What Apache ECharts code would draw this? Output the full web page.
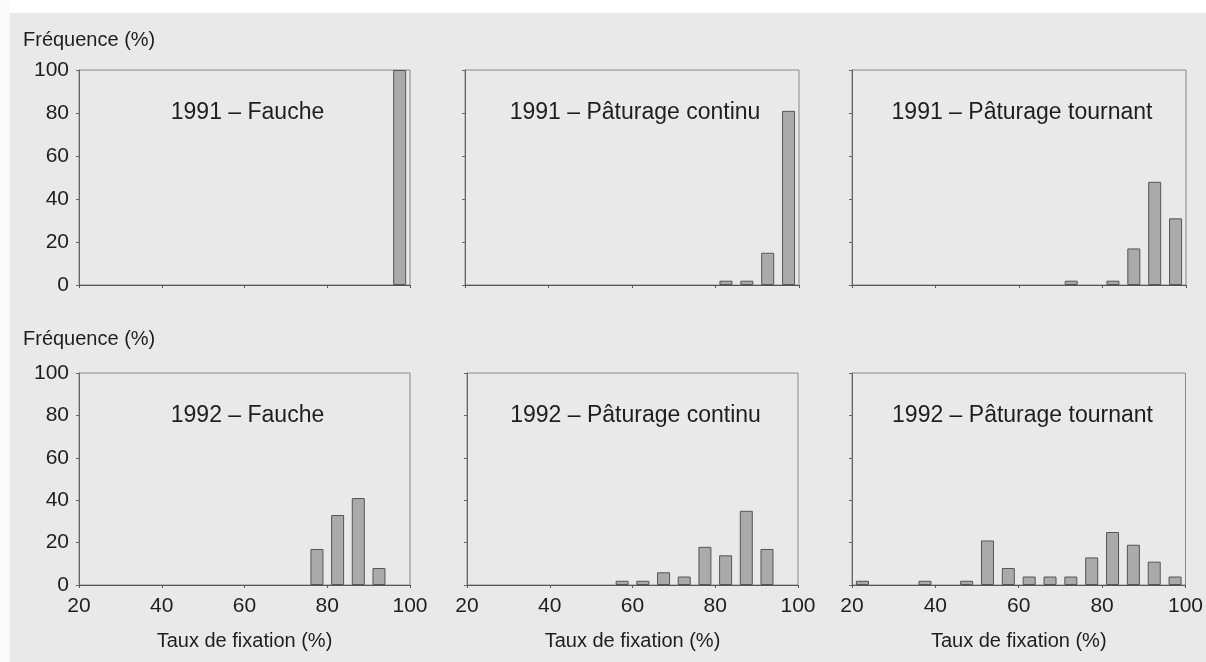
<!DOCTYPE html>
<html><head><meta charset="utf-8">
<script src="https://cdn.jsdelivr.net/npm/echarts@6/dist/echarts.min.js"></script>
<style>html,body{margin:0;padding:0;background:#fff}#c{width:1206px;height:662px}</style>
</head><body><div id="c"></div>
<script>
// Bin centres of fixation rate (%), 5-point classes
var binCenters = [22.5,27.5,32.5,37.5,42.5,47.5,52.5,57.5,62.5,67.5,72.5,77.5,82.5,87.5,92.5,97.5];
// Frequencies (%) per bin
var f1991Fauche   = [0,0,0,0,0,0,0,0,0,0,0,0,0,0,0,100];
var f1991Continu  = [0,0,0,0,0,0,0,0,0,0,0,0,2,2,15,81];
var f1991Tournant = [0,0,0,0,0,0,0,0,0,0,2,0,2,17,48,31];
var f1992Fauche   = [0,0,0,0,0,0,0,0,0,0,0,17,33,41,8,0];
var f1992Continu  = [0,0,0,0,0,0,0,2,2,6,4,18,14,35,17,0];
var f1992Tournant = [2,0,0,2,0,2,21,8,4,4,4,13,25,19,11,4];
var panelTitles = ["1991 – Fauche","1991 – Pâturage continu","1991 – Pâturage tournant",
                   "1992 – Fauche","1992 – Pâturage continu","1992 – Pâturage tournant"];
var xTicks = [20,40,60,80,100];
var yTicks = [0,20,40,60,80,100];
var yLabel = "Fréquence (%)";
var xLabel = "Taux de fixation (%)";

var panels = [f1991Fauche,f1991Continu,f1991Tournant,f1992Fauche,f1992Continu,f1992Tournant];
var layout = [
  {left:79, top:70, width:331, height:215},
  {left:465,top:70, width:334, height:215},
  {left:852,top:70, width:334, height:215},
  {left:79, top:373,width:331, height:212},
  {left:467,top:373,width:331, height:212},
  {left:852,top:373,width:335, height:212}
];
var FONT = 'Liberation Sans, Arial, sans-serif';
var TXT = '#1e1e1e';
var grids=[],xAxes=[],yAxes=[],series=[],graphics=[];
graphics.push({type:'rect',left:0,top:0,shape:{width:1206,height:13},style:{fill:'#ffffff'},z:-10});
graphics.push({type:'rect',left:0,top:0,shape:{width:10,height:662},style:{fill:'#fafafa'},z:-10});
panels.forEach(function(vals,i){
  var g = layout[i];
  var bottomRow = i>=3, firstCol = (i%3)===0;
  grids.push({left:g.left,top:g.top,width:g.width,height:g.height,show:true,
    borderColor:'#8a8a8a',borderWidth:1,backgroundColor:'transparent'});
  xAxes.push({type:'value',gridIndex:i,min:20,max:100,interval:20,
    axisLine:{show:true,lineStyle:{color:'#555',width:1.2}},
    axisTick:{show:true,length:3,lineStyle:{color:'#555'}},
    splitLine:{show:false},
    axisLabel:{show:bottomRow,color:TXT,fontSize:21,fontFamily:FONT,margin:11,
      formatter:function(v){return xTicks.indexOf(v)>=0?String(v):'';}},
    name:bottomRow?xLabel:'',nameLocation:'middle',nameGap:46,
    nameTextStyle:{color:TXT,fontSize:20,fontFamily:FONT}});
  yAxes.push({type:'value',gridIndex:i,min:0,max:100,interval:20,
    axisLine:{show:true,lineStyle:{color:'#666',width:1}},
    axisTick:{show:true,length:3,lineStyle:{color:'#666'}},
    splitLine:{show:false},
    axisLabel:{show:firstCol,color:TXT,fontSize:21,fontFamily:FONT,margin:10,
      formatter:function(v){return yTicks.indexOf(v)>=0?String(v):'';}}});
  series.push({type:'bar',xAxisIndex:i,yAxisIndex:i,barWidth:13,
    data:binCenters.map(function(c,k){return [c,vals[k]];}).filter(function(d){return d[1]>0;}),
    itemStyle:{color:'#aaaaaa',borderColor:'#555',borderWidth:1},
    silent:true,animation:false});
  graphics.push({type:'text',x:g.left+g.width/2+3,y:g.top+43,
    style:{text:panelTitles[i],font:'23px '+FONT,fill:TXT,textAlign:'center',textVerticalAlign:'middle'}});
  if(firstCol){
    graphics.push({type:'text',x:23,y:(i<3?40:339),
      style:{text:yLabel,font:'20px '+FONT,fill:TXT,textAlign:'left',textVerticalAlign:'middle'}});
  }
});
var chart = echarts.init(document.getElementById('c'),null,{renderer:'canvas'});
chart.setOption({backgroundColor:'#e9e9e9',animation:false,
  grid:grids,xAxis:xAxes,yAxis:yAxes,series:series,graphic:graphics});
</script></body></html>
